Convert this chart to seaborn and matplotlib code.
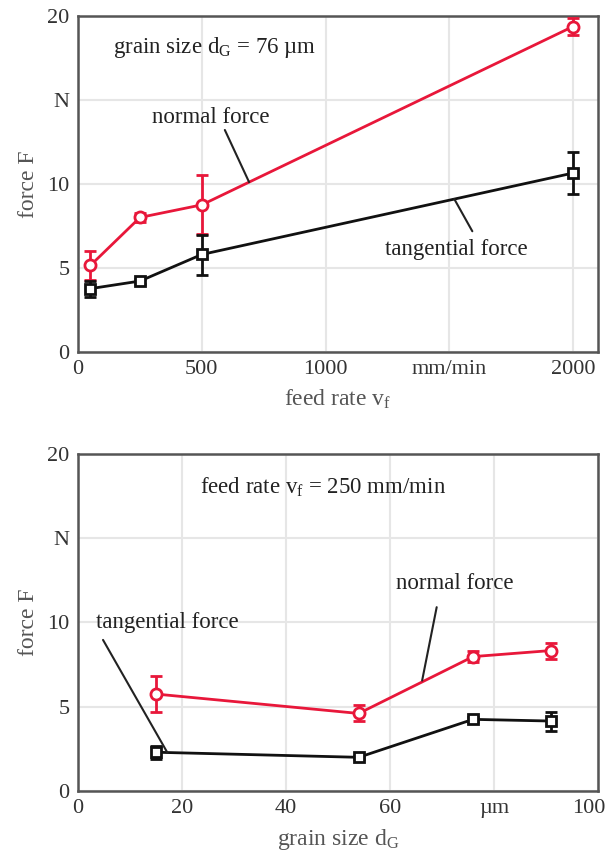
import numpy as np
import pandas as pd
import matplotlib
matplotlib.use("Agg")
import matplotlib.pyplot as plt
import matplotlib.transforms as mtransforms
import seaborn as sns

# ---- data: top panel (feed rate) ----
feed_rate = [50, 250, 500, 2000]
normal_feed = [5.15, 8.0, 8.75, 19.35]
normal_feed_lo = [4.3, 7.75, 7.0, 18.85]
normal_feed_hi = [6.0, 8.25, 10.55, 19.85]
tang_feed = [3.77, 4.22, 5.8, 10.64]
tang_feed_lo = [3.3, 4.07, 4.6, 9.4]
tang_feed_hi = [4.2, 4.37, 6.97, 11.9]

# ---- data: bottom panel (grain size) ----
grain_size = [15, 54, 76, 91]
normal_grain = [5.75, 4.6, 7.97, 8.33]
normal_grain_lo = [4.7, 4.15, 7.65, 7.85]
normal_grain_hi = [6.8, 5.1, 8.3, 8.8]
tang_grain = [2.3, 2.0, 4.25, 4.15]
tang_grain_lo = [1.9, 1.9, 4.1, 3.55]
tang_grain_hi = [2.7, 2.1, 4.4, 4.7]

top_xticks = [0, 500, 1000, 1500, 2000]
top_xticklabels = ["0", "500", "1000", "mm/min", "2000"]
bot_xticks = [0, 20, 40, 60, 80, 100]
bot_xticklabels = ["0", "20", "40", "60", "µm", "100"]
yticks = [0, 5, 10, 15, 20]
yticklabels = ["0", "5", "10", "N", "20"]

RED = "#e8173a"
BLACK = "#111111"
GRAY = "#555555"
TICKFS = 16
ANNFS = 16.5
LABFS = 17

sns.set_theme(style="whitegrid")
plt.rcParams["font.family"] = ["Liberation Serif", "DejaVu Serif"]
plt.rcParams["mathtext.fontset"] = "custom"
plt.rcParams["mathtext.rm"] = "Liberation Serif"
plt.rcParams["mathtext.it"] = "Liberation Serif:italic"

fig = plt.figure(figsize=(6.1, 8.65), dpi=100)
ax1 = fig.add_axes([0.128, 0.593, 0.852, 0.389])
ax2 = fig.add_axes([0.128, 0.0855, 0.852, 0.390])


def draw(ax, x, yn, yn_lo, yn_hi, yt, yt_lo, yt_hi):
    df = pd.DataFrame({"x": x * 2, "y": yn + yt,
                       "series": ["normal"] * len(x) + ["tangential"] * len(x)})
    for y, lo, hi, col in [(yn, yn_lo, yn_hi, RED), (yt, yt_lo, yt_hi, BLACK)]:
        y = np.array(y); lo = np.array(lo); hi = np.array(hi)
        ax.errorbar(x, y, yerr=[y - lo, hi - y], fmt="none", ecolor=col,
                    elinewidth=2, capsize=4, capthick=2, zorder=3)
    sns.lineplot(data=df[df.series == "normal"], x="x", y="y", ax=ax,
                 color=RED, lw=2, marker="o", markersize=8,
                 markerfacecolor="white", markeredgecolor=RED,
                 markeredgewidth=2, zorder=4)
    sns.lineplot(data=df[df.series == "tangential"], x="x", y="y", ax=ax,
                 color=BLACK, lw=2, marker="s", markersize=7,
                 markerfacecolor="white", markeredgecolor=BLACK,
                 markeredgewidth=2, zorder=4)
    ax.set_ylim(0, 20)
    ax.set_yticks(yticks)
    ax.set_yticklabels(yticklabels)
    ax.grid(True, color="#e6e6e6", lw=1.5)
    for s in ax.spines.values():
        s.set_color(GRAY)
        s.set_linewidth(1.8)
    ax.tick_params(axis="both", labelsize=TICKFS, colors="#333333", pad=6,
                   length=0)
    ax.set_ylabel("force F", fontsize=LABFS, color=GRAY, labelpad=6)


draw(ax1, feed_rate, normal_feed, normal_feed_lo, normal_feed_hi,
     tang_feed, tang_feed_lo, tang_feed_hi)
ax1.set_xlim(0, 2100)
ax1.set_xticks(top_xticks)
ax1.set_xticklabels(top_xticklabels)
ax1.set_xlabel("feed rate v$_\\mathrm{f}$", fontsize=LABFS, color=GRAY, labelpad=6)
ax1.text(141, 18.1, "grain size d$_\\mathrm{G}$ = 76 µm", fontsize=ANNFS,
         color="#222222", va="center", ha="left")
ax1.text(536, 13.95, "normal force", fontsize=ANNFS, color="#222222",
         ha="center", va="center")
ax1.plot([593, 691], [13.2, 10.1], color="#222222", lw=1.5, zorder=5)
ax1.text(1528, 6.1, "tangential force", fontsize=ANNFS, color="#222222",
         ha="center", va="center")
ax1.plot([1593, 1520], [7.18, 9.1], color="#222222", lw=1.5, zorder=5)

draw(ax2, grain_size, normal_grain, normal_grain_lo, normal_grain_hi,
     tang_grain, tang_grain_lo, tang_grain_hi)
ax2.set_xlim(0, 100)
ax2.set_xticks(bot_xticks)
ax2.set_xticklabels(bot_xticklabels)
ax2.set_xlabel("grain size d$_\\mathrm{G}$", fontsize=LABFS, color=GRAY, labelpad=6)
ax2.text(23.5, 18.0, "feed rate v$_\\mathrm{f}$ = 250 mm/min", fontsize=ANNFS,
         color="#222222", va="center", ha="left")
ax2.text(72.4, 12.3, "normal force", fontsize=ANNFS, color="#222222",
         ha="center", va="center")
ax2.plot([69.0, 66.2], [10.9, 6.55], color="#222222", lw=1.5, zorder=5)
ax2.text(17.2, 10.0, "tangential force", fontsize=ANNFS, color="#222222",
         ha="center", va="center")
ax2.plot([4.8, 17.2], [8.96, 2.27], color="#222222", lw=1.5, zorder=5)

# keep the last bottom x tick label inside the figure
lab = ax2.get_xticklabels()[-1]
lab.set_horizontalalignment("right")
lab.set_transform(lab.get_transform() +
                  mtransforms.ScaledTranslation(8 / 100, 0, fig.dpi_scale_trans))

fig.savefig("out.png", dpi=100)
